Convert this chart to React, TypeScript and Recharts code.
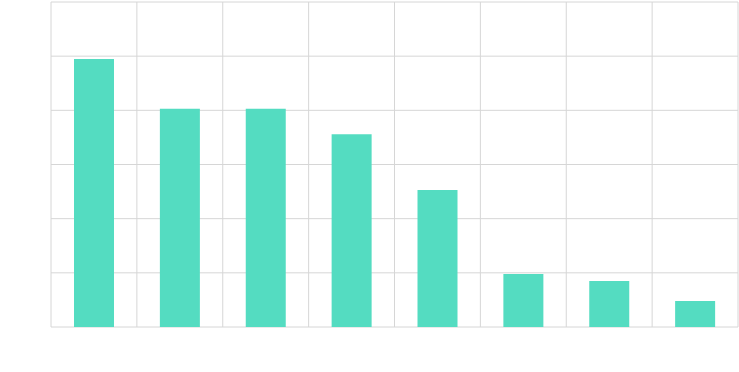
import React from 'react';
import { BarChart, Bar, XAxis, YAxis, CartesianGrid } from 'recharts';

const categories = ['A', 'B', 'C', 'D', 'E', 'F', 'G', 'H'];
const values = [4.95, 4.03, 4.03, 3.56, 2.53, 0.98, 0.85, 0.48];
const yTicks = [0, 1, 2, 3, 4, 5, 6];

const data = categories.map((name, i) => ({ name, value: values[i] }));

// grid lines sit between the bars, not under their centres
const bandEdges = ({ offset }: any) =>
  Array.from({ length: categories.length + 1 }, (_, i) => offset.left + (i * offset.width) / categories.length);

const App: React.FC = () => {
  return (
    <div style={{ position: 'absolute', left: 0, top: 0 }}>
      <BarChart width={739} height={372} data={data} margin={{ top: 2, right: 1, bottom: 45, left: 51 }}>
        <CartesianGrid stroke="#d6d6d6" verticalCoordinatesGenerator={bandEdges} />
        <XAxis dataKey="name" hide />
        <YAxis hide domain={[0, 6]} ticks={yTicks} />
        <Bar dataKey="value" fill="#54dcc1" barSize={40} isAnimationActive={false} />
      </BarChart>
    </div>
  );
};

export default App;
